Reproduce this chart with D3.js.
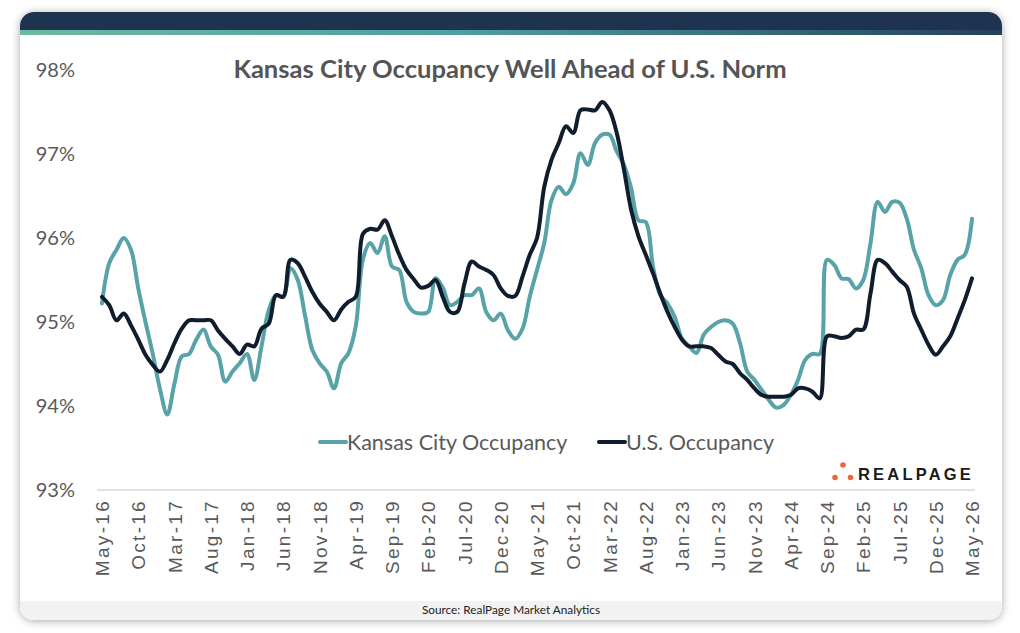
<!DOCTYPE html>
<html>
<head>
<meta charset="utf-8">
<script src="https://cdn.jsdelivr.net/npm/d3@7"></script>
<style>
  html, body { margin:0; padding:0; background:#fff; }
  svg { display:block; }
</style>
</head>
<body>
<script>
// ---- data (monthly, May-16 .. May-26) ------------------------------
const startMonth = new Date(2016, 4, 1);
const endMonth   = new Date(2026, 5, 1);

const kansasCity = [
  95.22, 95.70, 95.86, 96.00, 95.86, 95.40, 95.00, 94.62, 94.20, 93.90,
  94.27, 94.59, 94.62, 94.79, 94.91, 94.71, 94.61, 94.29, 94.41, 94.51,
  94.62, 94.31, 94.71, 95.14, 95.32, 95.30, 95.64, 95.50, 95.08, 94.67,
  94.51, 94.41, 94.21, 94.51, 94.63, 94.95, 95.75, 95.94, 95.82, 96.02,
  95.66, 95.62, 95.24, 95.12, 95.10, 95.12, 95.52, 95.41, 95.20, 95.24,
  95.32, 95.32, 95.40, 95.12, 95.02, 95.10, 94.90, 94.80, 94.92, 95.30,
  95.62, 95.94, 96.45, 96.61, 96.52, 96.65, 97.01, 96.87, 97.13, 97.23,
  97.23, 97.03, 96.87, 96.59, 96.21, 96.19, 95.66, 95.32, 95.22, 95.06,
  94.80, 94.71, 94.63, 94.85, 94.94, 95.00, 95.02, 94.98, 94.75, 94.41,
  94.31, 94.19, 94.07, 93.98, 94.01, 94.13, 94.31, 94.55, 94.62, 94.62,
  95.74, 95.68, 95.52, 95.51, 95.40, 95.50, 95.94, 96.43, 96.31, 96.43,
  96.42, 96.23, 95.86, 95.64, 95.32, 95.20, 95.26, 95.56, 95.74, 95.80,
  96.23
];

const usOccupancy = [
  95.30, 95.20, 95.02, 95.10, 94.96, 94.79, 94.61, 94.49, 94.41, 94.55,
  94.75, 94.92, 95.02, 95.02, 95.02, 95.02, 94.90, 94.80, 94.71, 94.62,
  94.73, 94.71, 94.92, 94.98, 95.32, 95.30, 95.74, 95.70, 95.54, 95.36,
  95.22, 95.12, 95.02, 95.15, 95.24, 95.30, 96.05, 96.11, 96.10, 96.21,
  96.02, 95.80, 95.62, 95.51, 95.41, 95.43, 95.50, 95.30, 95.12, 95.12,
  95.46, 95.72, 95.66, 95.62, 95.56, 95.40, 95.31, 95.31, 95.54, 95.80,
  96.00, 96.61, 96.93, 97.13, 97.33, 97.25, 97.52, 97.53, 97.52, 97.62,
  97.52, 97.25, 96.81, 96.33, 96.02, 95.80, 95.58, 95.34, 95.12, 94.94,
  94.79, 94.71, 94.71, 94.71, 94.69, 94.61, 94.53, 94.50, 94.39, 94.31,
  94.21, 94.13, 94.11, 94.11, 94.11, 94.13, 94.21, 94.21, 94.17, 94.09,
  94.83, 94.83, 94.81, 94.83, 94.91, 94.91, 95.34, 95.74, 95.70, 95.60,
  95.50, 95.42, 95.10, 94.91, 94.73, 94.61, 94.71, 94.83, 95.04, 95.26,
  95.52
];

const yTicks = [93, 94, 95, 96, 97, 98];
const tickLabels = [
  "May-16","Oct-16","Mar-17","Aug-17","Jan-18","Jun-18","Nov-18","Apr-19",
  "Sep-19","Feb-20","Jul-20","Dec-20","May-21","Oct-21","Mar-22","Aug-22",
  "Jan-23","Jun-23","Nov-23","Apr-24","Sep-24","Feb-25","Jul-25","Dec-25","May-26"
];

const seriesNames  = ["Kansas City Occupancy", "U.S. Occupancy"];
const seriesColors = ["#58a3a8", "#0f1d2c"];

// ---- layout --------------------------------------------------------
const W = 1020, H = 633;
const card = { x:20, y:12, w:982, h:608, r:14 };
const plot = { left:102, right:972, top:70, bottom:490 };

const months = d3.timeMonth.range(startMonth, endMonth).map(d3.timeFormat("%b-%y"));

const x = d3.scalePoint().domain(months).range([plot.left, plot.right]);
const y = d3.scaleLinear().domain([93, 98]).range([plot.bottom, plot.top]);

const svg = d3.select("body").append("svg")
  .attr("width", W).attr("height", H)
  .attr("font-family", "Lato, 'Open Sans', sans-serif");

const defs = svg.append("defs");

const shadow = defs.append("filter").attr("id","shadow")
  .attr("x","-5%").attr("y","-5%").attr("width","110%").attr("height","110%");
shadow.append("feDropShadow")
  .attr("dx",0).attr("dy",1).attr("stdDeviation",4)
  .attr("flood-color","#000").attr("flood-opacity",0.35);

defs.append("clipPath").attr("id","cardClip")
  .append("rect")
  .attr("x",card.x).attr("y",card.y).attr("width",card.w).attr("height",card.h)
  .attr("rx",card.r);

const grad = defs.append("linearGradient").attr("id","stripe")
  .attr("x1","0%").attr("x2","100%");
grad.append("stop").attr("offset","0%").attr("stop-color","#6bbaa0");
grad.append("stop").attr("offset","45%").attr("stop-color","#4f9ea3");
grad.append("stop").attr("offset","100%").attr("stop-color","#24405a");

// ---- card frame ----------------------------------------------------
svg.append("rect")
  .attr("x",card.x).attr("y",card.y).attr("width",card.w).attr("height",card.h)
  .attr("rx",card.r).attr("fill","#fff").attr("filter","url(#shadow)");

const frame = svg.append("g").attr("clip-path","url(#cardClip)");
frame.append("rect")
  .attr("x",card.x).attr("y",card.y).attr("width",card.w).attr("height",19)
  .attr("fill","#1e3350");
frame.append("rect")
  .attr("x",card.x).attr("y",card.y+18).attr("width",card.w).attr("height",5)
  .attr("fill","url(#stripe)");
frame.append("rect")
  .attr("x",card.x).attr("y",601).attr("width",card.w).attr("height",card.y+card.h-601)
  .attr("fill","#f2f2f2");

svg.append("text")
  .attr("x",511).attr("y",614)
  .attr("text-anchor","middle")
  .attr("font-size",11.8).attr("fill","#222")
  .text("Source: RealPage Market Analytics");

// ---- title ---------------------------------------------------------
svg.append("text")
  .attr("x",510).attr("y",78)
  .attr("text-anchor","middle")
  .attr("font-size",25.6).attr("font-weight","bold").attr("fill","#555")
  .text("Kansas City Occupancy Well Ahead of U.S. Norm");

// ---- axes ----------------------------------------------------------
const yAxis = svg.append("g")
  .attr("transform",`translate(${plot.left-24},0)`)
  .call(d3.axisLeft(y).tickValues(yTicks).tickFormat(d => d + "%").tickSize(0));
yAxis.select(".domain").remove();
yAxis.selectAll("text")
  .attr("font-family","Lato, sans-serif")
  .attr("font-size",20).attr("fill","#595959").attr("dx",0);

svg.append("line")
  .attr("x1",plot.left-5).attr("x2",plot.right+3)
  .attr("y1",y(93)).attr("y2",y(93))
  .attr("stroke","#d9d9d9").attr("stroke-width",1.5);

const xAxis = svg.append("g")
  .attr("transform",`translate(0,${plot.bottom})`)
  .call(d3.axisBottom(x).tickValues(tickLabels).tickSize(0));
xAxis.select(".domain").remove();
xAxis.selectAll("text")
  .attr("font-family","'Liberation Sans', Arial, sans-serif")
  .attr("font-size",19).attr("fill","#595959")
  .attr("letter-spacing","2.3px")
  .attr("text-anchor","end")
  .attr("transform","rotate(-90)")
  .attr("x",-9).attr("y",0).attr("dy","0.35em");

// ---- lines ---------------------------------------------------------
const line = d3.line()
  .x((d,i) => x(months[i]))
  .y(d => y(d))
  .curve(d3.curveCatmullRom.alpha(0.5));

[kansasCity, usOccupancy].forEach((vals, k) => {
  svg.append("path")
    .datum(vals)
    .attr("fill","none")
    .attr("stroke",seriesColors[k])
    .attr("stroke-width",4)
    .attr("stroke-linejoin","round")
    .attr("stroke-linecap","round")
    .attr("d",line);
});

// ---- legend --------------------------------------------------------
const legendX = [320, 599];
seriesNames.forEach((name, k) => {
  const g = svg.append("g").attr("transform",`translate(${legendX[k]},442)`);
  g.append("line").attr("x1",0).attr("x2",26)
    .attr("stroke",seriesColors[k]).attr("stroke-width",4).attr("stroke-linecap","round");
  g.append("text").attr("x",27).attr("dy","0.35em")
    .attr("font-size",21.5).attr("fill","#595959").text(name);
});

// ---- RealPage mark -------------------------------------------------
const logo = svg.append("g").attr("transform","translate(835,472)");
[[8,-7],[0,5.5],[15.5,5.5]].forEach(([cx,cy]) =>
  logo.append("circle").attr("cx",cx).attr("cy",cy).attr("r",2.8).attr("fill","#e8673d"));
logo.append("text")
  .attr("x",23).attr("y",7.5)
  .attr("font-family","'Liberation Sans', Arial, sans-serif")
  .attr("font-weight","bold").attr("font-size",16.5)
  .attr("letter-spacing","3.2px").attr("fill","#1b1b1b")
  .text("REALPAGE");
</script>
</body>
</html>
